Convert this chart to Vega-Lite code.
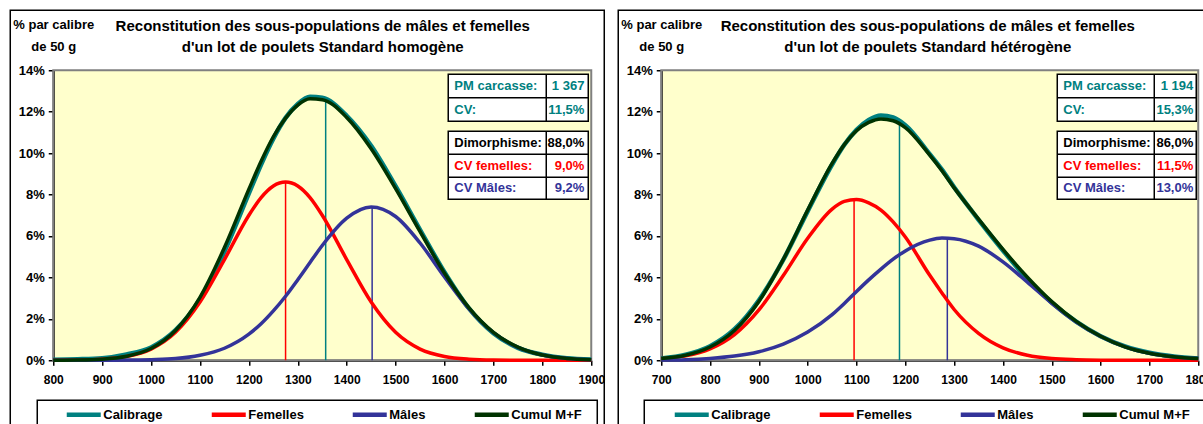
{
  "$schema": "https://vega.github.io/schema/vega-lite/v6.json",
  "padding": {"left": 9.25, "top": 9.25, "right": 0, "bottom": 0},
  "spacing": 70,
  "bounds": "flush",
  "datasets": {
    "curvesA": [
      {"serie": "Calibrage", "poids": 800, "pct": 0.0003}, {"serie": "Calibrage", "poids": 850, "pct": 0.0005}, {"serie": "Calibrage", "poids": 900, "pct": 0.0010}, {"serie": "Calibrage", "poids": 950, "pct": 0.0028}, {"serie": "Calibrage", "poids": 1000, "pct": 0.0062}, {"serie": "Calibrage", "poids": 1050, "pct": 0.0145}, {"serie": "Calibrage", "poids": 1100, "pct": 0.0295}, {"serie": "Calibrage", "poids": 1150, "pct": 0.0525}, {"serie": "Calibrage", "poids": 1200, "pct": 0.0805}, {"serie": "Calibrage", "poids": 1225, "pct": 0.0945}, {"serie": "Calibrage", "poids": 1250, "pct": 0.1070}, {"serie": "Calibrage", "poids": 1275, "pct": 0.1170}, {"serie": "Calibrage", "poids": 1300, "pct": 0.1237}, {"serie": "Calibrage", "poids": 1325, "pct": 0.1272}, {"serie": "Calibrage", "poids": 1350, "pct": 0.1267}, {"serie": "Calibrage", "poids": 1400, "pct": 0.1180}, {"serie": "Calibrage", "poids": 1450, "pct": 0.1035}, {"serie": "Calibrage", "poids": 1500, "pct": 0.0840}, {"serie": "Calibrage", "poids": 1550, "pct": 0.0630}, {"serie": "Calibrage", "poids": 1600, "pct": 0.0425}, {"serie": "Calibrage", "poids": 1650, "pct": 0.0250}, {"serie": "Calibrage", "poids": 1700, "pct": 0.0130}, {"serie": "Calibrage", "poids": 1750, "pct": 0.0060}, {"serie": "Calibrage", "poids": 1800, "pct": 0.0027}, {"serie": "Calibrage", "poids": 1850, "pct": 0.0010}, {"serie": "Calibrage", "poids": 1900, "pct": 0.0004},
      {"serie": "Femelles", "poids": 800, "pct": 0.00002}, {"serie": "Femelles", "poids": 850, "pct": 0.00012}, {"serie": "Femelles", "poids": 900, "pct": 0.0005}, {"serie": "Femelles", "poids": 950, "pct": 0.0018}, {"serie": "Femelles", "poids": 1000, "pct": 0.0054}, {"serie": "Femelles", "poids": 1050, "pct": 0.0135}, {"serie": "Femelles", "poids": 1100, "pct": 0.0281}, {"serie": "Femelles", "poids": 1150, "pct": 0.0486}, {"serie": "Femelles", "poids": 1200, "pct": 0.0700}, {"serie": "Femelles", "poids": 1225, "pct": 0.0785}, {"serie": "Femelles", "poids": 1250, "pct": 0.0841}, {"serie": "Femelles", "poids": 1275, "pct": 0.0860}, {"serie": "Femelles", "poids": 1300, "pct": 0.0841}, {"serie": "Femelles", "poids": 1325, "pct": 0.0785}, {"serie": "Femelles", "poids": 1350, "pct": 0.0700}, {"serie": "Femelles", "poids": 1400, "pct": 0.0486}, {"serie": "Femelles", "poids": 1450, "pct": 0.0281}, {"serie": "Femelles", "poids": 1500, "pct": 0.0135}, {"serie": "Femelles", "poids": 1550, "pct": 0.0054}, {"serie": "Femelles", "poids": 1600, "pct": 0.0018}, {"serie": "Femelles", "poids": 1650, "pct": 0.0005}, {"serie": "Femelles", "poids": 1700, "pct": 0.0001}, {"serie": "Femelles", "poids": 1750, "pct": 0.00002}, {"serie": "Femelles", "poids": 1800, "pct": 0}, {"serie": "Femelles", "poids": 1850, "pct": 0}, {"serie": "Femelles", "poids": 1900, "pct": 0},
      {"serie": "Mâles", "poids": 800, "pct": 0}, {"serie": "Mâles", "poids": 850, "pct": 0}, {"serie": "Mâles", "poids": 900, "pct": 0.00002}, {"serie": "Mâles", "poids": 950, "pct": 0.00007}, {"serie": "Mâles", "poids": 1000, "pct": 0.0003}, {"serie": "Mâles", "poids": 1050, "pct": 0.0008}, {"serie": "Mâles", "poids": 1100, "pct": 0.0024}, {"serie": "Mâles", "poids": 1150, "pct": 0.0058}, {"serie": "Mâles", "poids": 1200, "pct": 0.0126}, {"serie": "Mâles", "poids": 1225, "pct": 0.0176}, {"serie": "Mâles", "poids": 1250, "pct": 0.0238}, {"serie": "Mâles", "poids": 1275, "pct": 0.0309}, {"serie": "Mâles", "poids": 1300, "pct": 0.0389}, {"serie": "Mâles", "poids": 1325, "pct": 0.0472}, {"serie": "Mâles", "poids": 1350, "pct": 0.0554}, {"serie": "Mâles", "poids": 1400, "pct": 0.0686}, {"serie": "Mâles", "poids": 1450, "pct": 0.0740}, {"serie": "Mâles", "poids": 1500, "pct": 0.0694}, {"serie": "Mâles", "poids": 1550, "pct": 0.0566}, {"serie": "Mâles", "poids": 1600, "pct": 0.0402}, {"serie": "Mâles", "poids": 1650, "pct": 0.0248}, {"serie": "Mâles", "poids": 1700, "pct": 0.0133}, {"serie": "Mâles", "poids": 1750, "pct": 0.0062}, {"serie": "Mâles", "poids": 1800, "pct": 0.0025}, {"serie": "Mâles", "poids": 1850, "pct": 0.0009}, {"serie": "Mâles", "poids": 1900, "pct": 0.0003},
      {"serie": "Cumul M+F", "poids": 800, "pct": 0.00002}, {"serie": "Cumul M+F", "poids": 850, "pct": 0.00012}, {"serie": "Cumul M+F", "poids": 900, "pct": 0.0005}, {"serie": "Cumul M+F", "poids": 950, "pct": 0.0019}, {"serie": "Cumul M+F", "poids": 1000, "pct": 0.0057}, {"serie": "Cumul M+F", "poids": 1050, "pct": 0.0144}, {"serie": "Cumul M+F", "poids": 1100, "pct": 0.0304}, {"serie": "Cumul M+F", "poids": 1150, "pct": 0.0544}, {"serie": "Cumul M+F", "poids": 1200, "pct": 0.0826}, {"serie": "Cumul M+F", "poids": 1225, "pct": 0.0961}, {"serie": "Cumul M+F", "poids": 1250, "pct": 0.1079}, {"serie": "Cumul M+F", "poids": 1275, "pct": 0.1169}, {"serie": "Cumul M+F", "poids": 1300, "pct": 0.1232}, {"serie": "Cumul M+F", "poids": 1325, "pct": 0.1262}, {"serie": "Cumul M+F", "poids": 1350, "pct": 0.1258}, {"serie": "Cumul M+F", "poids": 1400, "pct": 0.1172}, {"serie": "Cumul M+F", "poids": 1450, "pct": 0.1021}, {"serie": "Cumul M+F", "poids": 1500, "pct": 0.0829}, {"serie": "Cumul M+F", "poids": 1550, "pct": 0.0621}, {"serie": "Cumul M+F", "poids": 1600, "pct": 0.0420}, {"serie": "Cumul M+F", "poids": 1650, "pct": 0.0253}, {"serie": "Cumul M+F", "poids": 1700, "pct": 0.0135}, {"serie": "Cumul M+F", "poids": 1750, "pct": 0.0063}, {"serie": "Cumul M+F", "poids": 1800, "pct": 0.0025}, {"serie": "Cumul M+F", "poids": 1850, "pct": 0.0009}, {"serie": "Cumul M+F", "poids": 1900, "pct": 0.0003}
    ],
    "curvesB": [
      {"serie": "Calibrage", "poids": 700, "pct": 0.0009}, {"serie": "Calibrage", "poids": 750, "pct": 0.0027}, {"serie": "Calibrage", "poids": 800, "pct": 0.0068}, {"serie": "Calibrage", "poids": 850, "pct": 0.0150}, {"serie": "Calibrage", "poids": 900, "pct": 0.0290}, {"serie": "Calibrage", "poids": 950, "pct": 0.0485}, {"serie": "Calibrage", "poids": 1000, "pct": 0.0720}, {"serie": "Calibrage", "poids": 1050, "pct": 0.0945}, {"serie": "Calibrage", "poids": 1075, "pct": 0.1040}, {"serie": "Calibrage", "poids": 1100, "pct": 0.1112}, {"serie": "Calibrage", "poids": 1125, "pct": 0.1160}, {"serie": "Calibrage", "poids": 1150, "pct": 0.1182}, {"serie": "Calibrage", "poids": 1175, "pct": 0.1172}, {"serie": "Calibrage", "poids": 1200, "pct": 0.1135}, {"serie": "Calibrage", "poids": 1250, "pct": 0.0995}, {"serie": "Calibrage", "poids": 1275, "pct": 0.0920}, {"serie": "Calibrage", "poids": 1300, "pct": 0.0835}, {"serie": "Calibrage", "poids": 1350, "pct": 0.0678}, {"serie": "Calibrage", "poids": 1400, "pct": 0.0530}, {"serie": "Calibrage", "poids": 1450, "pct": 0.0392}, {"serie": "Calibrage", "poids": 1500, "pct": 0.0278}, {"serie": "Calibrage", "poids": 1550, "pct": 0.0186}, {"serie": "Calibrage", "poids": 1600, "pct": 0.0116}, {"serie": "Calibrage", "poids": 1650, "pct": 0.0067}, {"serie": "Calibrage", "poids": 1700, "pct": 0.0036}, {"serie": "Calibrage", "poids": 1750, "pct": 0.0018}, {"serie": "Calibrage", "poids": 1800, "pct": 0.0009},
      {"serie": "Femelles", "poids": 700, "pct": 0.0007}, {"serie": "Femelles", "poids": 750, "pct": 0.0021}, {"serie": "Femelles", "poids": 800, "pct": 0.0055}, {"serie": "Femelles", "poids": 850, "pct": 0.0124}, {"serie": "Femelles", "poids": 900, "pct": 0.0243}, {"serie": "Femelles", "poids": 950, "pct": 0.0409}, {"serie": "Femelles", "poids": 1000, "pct": 0.0589}, {"serie": "Femelles", "poids": 1050, "pct": 0.0730}, {"serie": "Femelles", "poids": 1075, "pct": 0.0767}, {"serie": "Femelles", "poids": 1100, "pct": 0.0776}, {"serie": "Femelles", "poids": 1125, "pct": 0.0760}, {"serie": "Femelles", "poids": 1150, "pct": 0.0725}, {"serie": "Femelles", "poids": 1175, "pct": 0.0668}, {"serie": "Femelles", "poids": 1200, "pct": 0.0595}, {"serie": "Femelles", "poids": 1250, "pct": 0.0410}, {"serie": "Femelles", "poids": 1275, "pct": 0.0325}, {"serie": "Femelles", "poids": 1300, "pct": 0.0245}, {"serie": "Femelles", "poids": 1350, "pct": 0.0130}, {"serie": "Femelles", "poids": 1400, "pct": 0.0060}, {"serie": "Femelles", "poids": 1450, "pct": 0.0024}, {"serie": "Femelles", "poids": 1500, "pct": 0.0008}, {"serie": "Femelles", "poids": 1550, "pct": 0.00025}, {"serie": "Femelles", "poids": 1600, "pct": 0.00006}, {"serie": "Femelles", "poids": 1650, "pct": 0.00001}, {"serie": "Femelles", "poids": 1700, "pct": 0}, {"serie": "Femelles", "poids": 1750, "pct": 0}, {"serie": "Femelles", "poids": 1800, "pct": 0},
      {"serie": "Mâles", "poids": 700, "pct": 0.0001}, {"serie": "Mâles", "poids": 750, "pct": 0.0003}, {"serie": "Mâles", "poids": 800, "pct": 0.0009}, {"serie": "Mâles", "poids": 850, "pct": 0.0020}, {"serie": "Mâles", "poids": 900, "pct": 0.0041}, {"serie": "Mâles", "poids": 950, "pct": 0.0078}, {"serie": "Mâles", "poids": 1000, "pct": 0.0136}, {"serie": "Mâles", "poids": 1050, "pct": 0.0220}, {"serie": "Mâles", "poids": 1075, "pct": 0.0274}, {"serie": "Mâles", "poids": 1100, "pct": 0.0332}, {"serie": "Mâles", "poids": 1125, "pct": 0.0388}, {"serie": "Mâles", "poids": 1150, "pct": 0.0440}, {"serie": "Mâles", "poids": 1175, "pct": 0.0488}, {"serie": "Mâles", "poids": 1200, "pct": 0.0528}, {"serie": "Mâles", "poids": 1250, "pct": 0.0580}, {"serie": "Mâles", "poids": 1275, "pct": 0.0590}, {"serie": "Mâles", "poids": 1300, "pct": 0.0587}, {"serie": "Mâles", "poids": 1350, "pct": 0.0551}, {"serie": "Mâles", "poids": 1400, "pct": 0.0475}, {"serie": "Mâles", "poids": 1450, "pct": 0.0377}, {"serie": "Mâles", "poids": 1500, "pct": 0.0275}, {"serie": "Mâles", "poids": 1550, "pct": 0.0185}, {"serie": "Mâles", "poids": 1600, "pct": 0.0115}, {"serie": "Mâles", "poids": 1650, "pct": 0.0065}, {"serie": "Mâles", "poids": 1700, "pct": 0.0034}, {"serie": "Mâles", "poids": 1750, "pct": 0.0017}, {"serie": "Mâles", "poids": 1800, "pct": 0.0008},
      {"serie": "Cumul M+F", "poids": 700, "pct": 0.0008}, {"serie": "Cumul M+F", "poids": 750, "pct": 0.0024}, {"serie": "Cumul M+F", "poids": 800, "pct": 0.0064}, {"serie": "Cumul M+F", "poids": 850, "pct": 0.0144}, {"serie": "Cumul M+F", "poids": 900, "pct": 0.0284}, {"serie": "Cumul M+F", "poids": 950, "pct": 0.0487}, {"serie": "Cumul M+F", "poids": 1000, "pct": 0.0725}, {"serie": "Cumul M+F", "poids": 1050, "pct": 0.0950}, {"serie": "Cumul M+F", "poids": 1075, "pct": 0.1041}, {"serie": "Cumul M+F", "poids": 1100, "pct": 0.1108}, {"serie": "Cumul M+F", "poids": 1125, "pct": 0.1148}, {"serie": "Cumul M+F", "poids": 1150, "pct": 0.1165}, {"serie": "Cumul M+F", "poids": 1175, "pct": 0.1156}, {"serie": "Cumul M+F", "poids": 1200, "pct": 0.1123}, {"serie": "Cumul M+F", "poids": 1250, "pct": 0.0990}, {"serie": "Cumul M+F", "poids": 1275, "pct": 0.0915}, {"serie": "Cumul M+F", "poids": 1300, "pct": 0.0832}, {"serie": "Cumul M+F", "poids": 1350, "pct": 0.0681}, {"serie": "Cumul M+F", "poids": 1400, "pct": 0.0535}, {"serie": "Cumul M+F", "poids": 1450, "pct": 0.0401}, {"serie": "Cumul M+F", "poids": 1500, "pct": 0.0283}, {"serie": "Cumul M+F", "poids": 1550, "pct": 0.0188}, {"serie": "Cumul M+F", "poids": 1600, "pct": 0.0116}, {"serie": "Cumul M+F", "poids": 1650, "pct": 0.0065}, {"serie": "Cumul M+F", "poids": 1700, "pct": 0.0034}, {"serie": "Cumul M+F", "poids": 1750, "pct": 0.0017}, {"serie": "Cumul M+F", "poids": 1800, "pct": 0.0008}
    ],
    "rules": [
      {"panel": "A", "serie": "Femelles", "poids": 1275, "pct": 0.0860},
      {"panel": "A", "serie": "Calibrage", "poids": 1357, "pct": 0.1265},
      {"panel": "A", "serie": "Mâles", "poids": 1452, "pct": 0.0740},
      {"panel": "B", "serie": "Femelles", "poids": 1095, "pct": 0.0776},
      {"panel": "B", "serie": "Calibrage", "poids": 1188, "pct": 0.1150},
      {"panel": "B", "serie": "Mâles", "poids": 1286, "pct": 0.0589}
    ],
    "tables": [
      {"panel": "A", "label": "PM carcasse:", "value": "1 367", "kind": "Calibrage"},
      {"panel": "A", "label": "CV:", "value": "11,5%", "kind": "Calibrage"},
      {"panel": "A", "label": "Dimorphisme:", "value": "88,0%", "kind": "Dimorphisme"},
      {"panel": "A", "label": "CV femelles:", "value": "9,0%", "kind": "Femelles"},
      {"panel": "A", "label": "CV Mâles:", "value": "9,2%", "kind": "Mâles"},
      {"panel": "B", "label": "PM carcasse:", "value": "1 194", "kind": "Calibrage"},
      {"panel": "B", "label": "CV:", "value": "15,3%", "kind": "Calibrage"},
      {"panel": "B", "label": "Dimorphisme:", "value": "86,0%", "kind": "Dimorphisme"},
      {"panel": "B", "label": "CV femelles:", "value": "11,5%", "kind": "Femelles"},
      {"panel": "B", "label": "CV Mâles:", "value": "13,0%", "kind": "Mâles"}
    ]
  },
  "hconcat": [
    {
      "width": 538, "height": 290,
      "layer": [
        {"data": {"values": [{}]}, "mark": {"type": "rect", "fill": null, "stroke": "black", "strokeWidth": 1.5},
         "encoding": {"x": {"datum": 712.1, "type": "quantitative", "scale": {"domain": [800, 1900], "nice": false, "zero": false}}, "x2": {"datum": 1926.6}, "y": {"datum": 0.169, "type": "quantitative", "scale": {"domain": [0, 0.14], "nice": false, "zero": false}}, "y2": {"datum": -0.0315}}},
        {"data": {"values": [{}]}, "mark": {"type": "rect", "fill": "white", "stroke": "black", "strokeWidth": 1.5},
         "encoding": {"x": {"datum": 767.3, "type": "quantitative", "scale": {"domain": [800, 1900], "nice": false, "zero": false}}, "x2": {"datum": 1912.3}, "y": {"datum": -0.0193, "type": "quantitative", "scale": {"domain": [0, 0.14], "nice": false, "zero": false}}, "y2": {"datum": -0.0315}}},
        {"data": {"values": [{}]}, "mark": {"type": "text", "align": "center", "baseline": "alphabetic", "fontSize": 15, "fontWeight": "bold", "lineHeight": 21, "color": "black", "text": ["Reconstitution des sous-populations de mâles et femelles", "d'un lot de poulets Standard homogène"]},
         "encoding": {"x": {"datum": 1351, "type": "quantitative", "scale": {"domain": [800, 1900], "nice": false, "zero": false}}, "y": {"datum": 0.1588, "type": "quantitative", "scale": {"domain": [0, 0.14], "nice": false, "zero": false}}}},
        {"data": {"values": [{}]}, "mark": {"type": "rect", "fill": null, "stroke": "#808080", "strokeWidth": 2},
         "encoding": {"x": {"datum": 800, "type": "quantitative", "scale": {"domain": [800, 1900], "nice": false, "zero": false}}, "x2": {"datum": 1900}, "y": {"datum": 0, "type": "quantitative", "scale": {"domain": [0, 0.14], "nice": false, "zero": false}}, "y2": {"datum": 0.14}}},
        {"data": {"name": "rules"}, "transform": [{"filter": "datum.panel == 'A'"}], "mark": {"type": "rule", "strokeWidth": 1.5},
         "encoding": {"x": {"field": "poids", "type": "quantitative", "scale": {"domain": [800, 1900], "nice": false, "zero": false}}, "y": {"field": "pct", "type": "quantitative", "scale": {"domain": [0, 0.14], "nice": false, "zero": false}}, "y2": {"datum": 0}, "color": {"field": "serie", "type": "nominal", "scale": {"domain": ["Calibrage", "Femelles", "Mâles", "Cumul M+F"], "range": ["#008080", "#FF0000", "#333399", "#003300"]}}}},
        {"data": {"name": "curvesA"}, "transform": [{"filter": "datum.serie == 'Calibrage'"}], "mark": {"type": "line", "strokeWidth": 4.5, "interpolate": "monotone"},
         "encoding": {
           "x": {"field": "poids", "type": "quantitative", "scale": {"domain": [800, 1900], "nice": false, "zero": false}, "axis": {"values": [800, 900, 1000, 1100, 1200, 1300, 1400, 1500, 1600, 1700, 1800, 1900], "format": "d", "title": null}},
           "y": {"field": "pct", "type": "quantitative", "scale": {"domain": [0, 0.14], "nice": false, "zero": false}, "axis": {"values": [0, 0.02, 0.04, 0.06, 0.08, 0.1, 0.12, 0.14], "format": ".0%", "title": ["% par calibre", "de 50 g"], "titleAngle": 0, "titleAlign": "center", "titleBaseline": "alphabetic", "titleX": 0, "titleY": -42, "titleFontSize": 13, "titleFontWeight": "bold", "titleColor": "black", "titleLineHeight": 22}},
           "color": {"field": "serie", "type": "nominal", "scale": {"domain": ["Calibrage", "Femelles", "Mâles", "Cumul M+F"], "range": ["#008080", "#FF0000", "#333399", "#003300"]},
             "legend": {"orient": "none", "legendX": 11, "legendY": 325, "direction": "horizontal", "columns": 4, "gridAlign": "none", "columnPadding": 39, "symbolType": "stroke", "symbolSize": 1156, "symbolStrokeWidth": 4.5, "labelFontSize": 13, "labelFontWeight": "bold", "labelColor": "black", "labelOffset": 0, "padding": 0, "title": null}}
         }},
        {"data": {"name": "curvesA"}, "transform": [{"filter": "datum.serie == 'Femelles'"}], "mark": {"type": "line", "strokeWidth": 3.5, "interpolate": "monotone"},
         "encoding": {"x": {"field": "poids", "type": "quantitative", "scale": {"domain": [800, 1900], "nice": false, "zero": false}}, "y": {"field": "pct", "type": "quantitative", "scale": {"domain": [0, 0.14], "nice": false, "zero": false}}, "color": {"field": "serie", "type": "nominal", "scale": {"domain": ["Calibrage", "Femelles", "Mâles", "Cumul M+F"], "range": ["#008080", "#FF0000", "#333399", "#003300"]}}}},
        {"data": {"name": "curvesA"}, "transform": [{"filter": "datum.serie == 'Mâles'"}], "mark": {"type": "line", "strokeWidth": 3.5, "interpolate": "monotone"},
         "encoding": {"x": {"field": "poids", "type": "quantitative", "scale": {"domain": [800, 1900], "nice": false, "zero": false}}, "y": {"field": "pct", "type": "quantitative", "scale": {"domain": [0, 0.14], "nice": false, "zero": false}}, "color": {"field": "serie", "type": "nominal", "scale": {"domain": ["Calibrage", "Femelles", "Mâles", "Cumul M+F"], "range": ["#008080", "#FF0000", "#333399", "#003300"]}}}},
        {"data": {"name": "curvesA"}, "transform": [{"filter": "datum.serie == 'Cumul M+F'"}], "mark": {"type": "line", "strokeWidth": 3.5, "interpolate": "monotone"},
         "encoding": {"x": {"field": "poids", "type": "quantitative", "scale": {"domain": [800, 1900], "nice": false, "zero": false}}, "y": {"field": "pct", "type": "quantitative", "scale": {"domain": [0, 0.14], "nice": false, "zero": false}}, "color": {"field": "serie", "type": "nominal", "scale": {"domain": ["Calibrage", "Femelles", "Mâles", "Cumul M+F"], "range": ["#008080", "#FF0000", "#333399", "#003300"]}}}},
        {"data": {"values": [{}]}, "mark": {"type": "rect", "fill": "white", "stroke": "black", "strokeWidth": 1.5},
         "encoding": {"x": {"datum": 1607.6, "type": "quantitative", "scale": {"domain": [800, 1900], "nice": false, "zero": false}}, "x2": {"datum": 1893.9}, "y": {"datum": 0.13807, "type": "quantitative", "scale": {"domain": [0, 0.14], "nice": false, "zero": false}}, "y2": {"datum": 0.11538}}},
        {"data": {"values": [{}]}, "mark": {"type": "rect", "fill": "white", "stroke": "black", "strokeWidth": 1.5},
         "encoding": {"x": {"datum": 1607.6, "type": "quantitative", "scale": {"domain": [800, 1900], "nice": false, "zero": false}}, "x2": {"datum": 1893.9}, "y": {"datum": 0.11055, "type": "quantitative", "scale": {"domain": [0, 0.14], "nice": false, "zero": false}}, "y2": {"datum": 0.07772}}},
        {"data": {"values": [{}]}, "mark": {"type": "rule", "stroke": "black", "strokeWidth": 1.5},
         "encoding": {"x": {"datum": 1808, "type": "quantitative", "scale": {"domain": [800, 1900], "nice": false, "zero": false}}, "y": {"datum": 0.13807, "type": "quantitative", "scale": {"domain": [0, 0.14], "nice": false, "zero": false}}, "y2": {"datum": 0.11538}}},
        {"data": {"values": [{}]}, "mark": {"type": "rule", "stroke": "black", "strokeWidth": 1.5},
         "encoding": {"x": {"datum": 1808, "type": "quantitative", "scale": {"domain": [800, 1900], "nice": false, "zero": false}}, "y": {"datum": 0.11055, "type": "quantitative", "scale": {"domain": [0, 0.14], "nice": false, "zero": false}}, "y2": {"datum": 0.07772}}},
        {"data": {"values": [{}]}, "mark": {"type": "rule", "stroke": "black", "strokeWidth": 1.5},
         "encoding": {"x": {"datum": 1607.6, "type": "quantitative", "scale": {"domain": [800, 1900], "nice": false, "zero": false}}, "x2": {"datum": 1893.9}, "y": {"datum": 0.12672, "type": "quantitative", "scale": {"domain": [0, 0.14], "nice": false, "zero": false}}}},
        {"data": {"values": [{}]}, "mark": {"type": "rule", "stroke": "black", "strokeWidth": 1.5},
         "encoding": {"x": {"datum": 1607.6, "type": "quantitative", "scale": {"domain": [800, 1900], "nice": false, "zero": false}}, "x2": {"datum": 1893.9}, "y": {"datum": 0.09945, "type": "quantitative", "scale": {"domain": [0, 0.14], "nice": false, "zero": false}}}},
        {"data": {"values": [{}]}, "mark": {"type": "rule", "stroke": "black", "strokeWidth": 1.5},
         "encoding": {"x": {"datum": 1607.6, "type": "quantitative", "scale": {"domain": [800, 1900], "nice": false, "zero": false}}, "x2": {"datum": 1893.9}, "y": {"datum": 0.08834, "type": "quantitative", "scale": {"domain": [0, 0.14], "nice": false, "zero": false}}}},
        {"data": {"name": "tables"}, "transform": [{"filter": "datum.panel == 'A' && datum.label == 'PM carcasse:'"}], "mark": {"type": "text", "align": "left", "baseline": "middle", "fontSize": 13, "fontWeight": "bold"},
         "encoding": {"x": {"datum": 1620, "type": "quantitative", "scale": {"domain": [800, 1900], "nice": false, "zero": false}}, "y": {"datum": 0.1324, "type": "quantitative", "scale": {"domain": [0, 0.14], "nice": false, "zero": false}}, "text": {"field": "label", "type": "nominal"}, "fill": {"field": "kind", "type": "nominal", "scale": {"domain": ["Calibrage", "Dimorphisme", "Femelles", "Mâles"], "range": ["#008080", "#000000", "#FF0000", "#333399"]}, "legend": null}}},
        {"data": {"name": "tables"}, "transform": [{"filter": "datum.panel == 'A' && datum.label == 'PM carcasse:'"}], "mark": {"type": "text", "align": "right", "baseline": "middle", "fontSize": 13, "fontWeight": "bold"},
         "encoding": {"x": {"datum": 1886, "type": "quantitative", "scale": {"domain": [800, 1900], "nice": false, "zero": false}}, "y": {"datum": 0.1324, "type": "quantitative", "scale": {"domain": [0, 0.14], "nice": false, "zero": false}}, "text": {"field": "value", "type": "nominal"}, "fill": {"field": "kind", "type": "nominal", "scale": {"domain": ["Calibrage", "Dimorphisme", "Femelles", "Mâles"], "range": ["#008080", "#000000", "#FF0000", "#333399"]}, "legend": null}}},
        {"data": {"name": "tables"}, "transform": [{"filter": "datum.panel == 'A' && datum.label == 'CV:'"}], "mark": {"type": "text", "align": "left", "baseline": "middle", "fontSize": 13, "fontWeight": "bold"},
         "encoding": {"x": {"datum": 1620, "type": "quantitative", "scale": {"domain": [800, 1900], "nice": false, "zero": false}}, "y": {"datum": 0.12105, "type": "quantitative", "scale": {"domain": [0, 0.14], "nice": false, "zero": false}}, "text": {"field": "label", "type": "nominal"}, "fill": {"field": "kind", "type": "nominal", "scale": {"domain": ["Calibrage", "Dimorphisme", "Femelles", "Mâles"], "range": ["#008080", "#000000", "#FF0000", "#333399"]}, "legend": null}}},
        {"data": {"name": "tables"}, "transform": [{"filter": "datum.panel == 'A' && datum.label == 'CV:'"}], "mark": {"type": "text", "align": "right", "baseline": "middle", "fontSize": 13, "fontWeight": "bold"},
         "encoding": {"x": {"datum": 1886, "type": "quantitative", "scale": {"domain": [800, 1900], "nice": false, "zero": false}}, "y": {"datum": 0.12105, "type": "quantitative", "scale": {"domain": [0, 0.14], "nice": false, "zero": false}}, "text": {"field": "value", "type": "nominal"}, "fill": {"field": "kind", "type": "nominal", "scale": {"domain": ["Calibrage", "Dimorphisme", "Femelles", "Mâles"], "range": ["#008080", "#000000", "#FF0000", "#333399"]}, "legend": null}}},
        {"data": {"name": "tables"}, "transform": [{"filter": "datum.panel == 'A' && datum.label == 'Dimorphisme:'"}], "mark": {"type": "text", "align": "left", "baseline": "middle", "fontSize": 13, "fontWeight": "bold"},
         "encoding": {"x": {"datum": 1620, "type": "quantitative", "scale": {"domain": [800, 1900], "nice": false, "zero": false}}, "y": {"datum": 0.105, "type": "quantitative", "scale": {"domain": [0, 0.14], "nice": false, "zero": false}}, "text": {"field": "label", "type": "nominal"}, "fill": {"field": "kind", "type": "nominal", "scale": {"domain": ["Calibrage", "Dimorphisme", "Femelles", "Mâles"], "range": ["#008080", "#000000", "#FF0000", "#333399"]}, "legend": null}}},
        {"data": {"name": "tables"}, "transform": [{"filter": "datum.panel == 'A' && datum.label == 'Dimorphisme:'"}], "mark": {"type": "text", "align": "right", "baseline": "middle", "fontSize": 13, "fontWeight": "bold"},
         "encoding": {"x": {"datum": 1886, "type": "quantitative", "scale": {"domain": [800, 1900], "nice": false, "zero": false}}, "y": {"datum": 0.105, "type": "quantitative", "scale": {"domain": [0, 0.14], "nice": false, "zero": false}}, "text": {"field": "value", "type": "nominal"}, "fill": {"field": "kind", "type": "nominal", "scale": {"domain": ["Calibrage", "Dimorphisme", "Femelles", "Mâles"], "range": ["#008080", "#000000", "#FF0000", "#333399"]}, "legend": null}}},
        {"data": {"name": "tables"}, "transform": [{"filter": "datum.panel == 'A' && datum.label == 'CV femelles:'"}], "mark": {"type": "text", "align": "left", "baseline": "middle", "fontSize": 13, "fontWeight": "bold"},
         "encoding": {"x": {"datum": 1620, "type": "quantitative", "scale": {"domain": [800, 1900], "nice": false, "zero": false}}, "y": {"datum": 0.0939, "type": "quantitative", "scale": {"domain": [0, 0.14], "nice": false, "zero": false}}, "text": {"field": "label", "type": "nominal"}, "fill": {"field": "kind", "type": "nominal", "scale": {"domain": ["Calibrage", "Dimorphisme", "Femelles", "Mâles"], "range": ["#008080", "#000000", "#FF0000", "#333399"]}, "legend": null}}},
        {"data": {"name": "tables"}, "transform": [{"filter": "datum.panel == 'A' && datum.label == 'CV femelles:'"}], "mark": {"type": "text", "align": "right", "baseline": "middle", "fontSize": 13, "fontWeight": "bold"},
         "encoding": {"x": {"datum": 1886, "type": "quantitative", "scale": {"domain": [800, 1900], "nice": false, "zero": false}}, "y": {"datum": 0.0939, "type": "quantitative", "scale": {"domain": [0, 0.14], "nice": false, "zero": false}}, "text": {"field": "value", "type": "nominal"}, "fill": {"field": "kind", "type": "nominal", "scale": {"domain": ["Calibrage", "Dimorphisme", "Femelles", "Mâles"], "range": ["#008080", "#000000", "#FF0000", "#333399"]}, "legend": null}}},
        {"data": {"name": "tables"}, "transform": [{"filter": "datum.panel == 'A' && datum.label == 'CV Mâles:'"}], "mark": {"type": "text", "align": "left", "baseline": "middle", "fontSize": 13, "fontWeight": "bold"},
         "encoding": {"x": {"datum": 1620, "type": "quantitative", "scale": {"domain": [800, 1900], "nice": false, "zero": false}}, "y": {"datum": 0.08303, "type": "quantitative", "scale": {"domain": [0, 0.14], "nice": false, "zero": false}}, "text": {"field": "label", "type": "nominal"}, "fill": {"field": "kind", "type": "nominal", "scale": {"domain": ["Calibrage", "Dimorphisme", "Femelles", "Mâles"], "range": ["#008080", "#000000", "#FF0000", "#333399"]}, "legend": null}}},
        {"data": {"name": "tables"}, "transform": [{"filter": "datum.panel == 'A' && datum.label == 'CV Mâles:'"}], "mark": {"type": "text", "align": "right", "baseline": "middle", "fontSize": 13, "fontWeight": "bold"},
         "encoding": {"x": {"datum": 1886, "type": "quantitative", "scale": {"domain": [800, 1900], "nice": false, "zero": false}}, "y": {"datum": 0.08303, "type": "quantitative", "scale": {"domain": [0, 0.14], "nice": false, "zero": false}}, "text": {"field": "value", "type": "nominal"}, "fill": {"field": "kind", "type": "nominal", "scale": {"domain": ["Calibrage", "Dimorphisme", "Femelles", "Mâles"], "range": ["#008080", "#000000", "#FF0000", "#333399"]}, "legend": null}}}
      ]
    },
    {
      "width": 537, "height": 290,
      "layer": [
        {"data": {"values": [{}]}, "mark": {"type": "rect", "fill": null, "stroke": "black", "strokeWidth": 1.5},
         "encoding": {"x": {"datum": 611.9, "type": "quantitative", "scale": {"domain": [700, 1800], "nice": false, "zero": false}}, "x2": {"datum": 1815}, "y": {"datum": 0.169, "type": "quantitative", "scale": {"domain": [0, 0.14], "nice": false, "zero": false}}, "y2": {"datum": -0.0315}}},
        {"data": {"values": [{}]}, "mark": {"type": "rect", "fill": "white", "stroke": "black", "strokeWidth": 1.5},
         "encoding": {"x": {"datum": 665.2, "type": "quantitative", "scale": {"domain": [700, 1800], "nice": false, "zero": false}}, "x2": {"datum": 1815}, "y": {"datum": -0.0193, "type": "quantitative", "scale": {"domain": [0, 0.14], "nice": false, "zero": false}}, "y2": {"datum": -0.0315}}},
        {"data": {"values": [{}]}, "mark": {"type": "text", "align": "center", "baseline": "alphabetic", "fontSize": 15, "fontWeight": "bold", "lineHeight": 21, "color": "black", "text": ["Reconstitution des sous-populations de mâles et femelles", "d'un lot de poulets Standard hétérogène"]},
         "encoding": {"x": {"datum": 1246, "type": "quantitative", "scale": {"domain": [700, 1800], "nice": false, "zero": false}}, "y": {"datum": 0.1588, "type": "quantitative", "scale": {"domain": [0, 0.14], "nice": false, "zero": false}}}},
        {"data": {"values": [{}]}, "mark": {"type": "rect", "fill": null, "stroke": "#808080", "strokeWidth": 2},
         "encoding": {"x": {"datum": 700, "type": "quantitative", "scale": {"domain": [700, 1800], "nice": false, "zero": false}}, "x2": {"datum": 1800}, "y": {"datum": 0, "type": "quantitative", "scale": {"domain": [0, 0.14], "nice": false, "zero": false}}, "y2": {"datum": 0.14}}},
        {"data": {"name": "rules"}, "transform": [{"filter": "datum.panel == 'B'"}], "mark": {"type": "rule", "strokeWidth": 1.5},
         "encoding": {"x": {"field": "poids", "type": "quantitative", "scale": {"domain": [700, 1800], "nice": false, "zero": false}}, "y": {"field": "pct", "type": "quantitative", "scale": {"domain": [0, 0.14], "nice": false, "zero": false}}, "y2": {"datum": 0}, "color": {"field": "serie", "type": "nominal", "scale": {"domain": ["Calibrage", "Femelles", "Mâles", "Cumul M+F"], "range": ["#008080", "#FF0000", "#333399", "#003300"]}}}},
        {"data": {"name": "curvesB"}, "transform": [{"filter": "datum.serie == 'Calibrage'"}], "mark": {"type": "line", "strokeWidth": 4.5, "interpolate": "monotone"},
         "encoding": {
           "x": {"field": "poids", "type": "quantitative", "scale": {"domain": [700, 1800], "nice": false, "zero": false}, "axis": {"values": [700, 800, 900, 1000, 1100, 1200, 1300, 1400, 1500, 1600, 1700, 1800], "format": "d", "title": null}},
           "y": {"field": "pct", "type": "quantitative", "scale": {"domain": [0, 0.14], "nice": false, "zero": false}, "axis": {"values": [0, 0.02, 0.04, 0.06, 0.08, 0.1, 0.12, 0.14], "format": ".0%", "title": ["% par calibre", "de 50 g"], "titleAngle": 0, "titleAlign": "center", "titleBaseline": "alphabetic", "titleX": 0, "titleY": -42, "titleFontSize": 13, "titleFontWeight": "bold", "titleColor": "black", "titleLineHeight": 22}},
           "color": {"field": "serie", "type": "nominal", "scale": {"domain": ["Calibrage", "Femelles", "Mâles", "Cumul M+F"], "range": ["#008080", "#FF0000", "#333399", "#003300"]},
             "legend": {"orient": "none", "legendX": 11, "legendY": 325, "direction": "horizontal", "columns": 4, "gridAlign": "none", "columnPadding": 39, "symbolType": "stroke", "symbolSize": 1156, "symbolStrokeWidth": 4.5, "labelFontSize": 13, "labelFontWeight": "bold", "labelColor": "black", "labelOffset": 0, "padding": 0, "title": null}}
         }},
        {"data": {"name": "curvesB"}, "transform": [{"filter": "datum.serie == 'Femelles'"}], "mark": {"type": "line", "strokeWidth": 3.5, "interpolate": "monotone"},
         "encoding": {"x": {"field": "poids", "type": "quantitative", "scale": {"domain": [700, 1800], "nice": false, "zero": false}}, "y": {"field": "pct", "type": "quantitative", "scale": {"domain": [0, 0.14], "nice": false, "zero": false}}, "color": {"field": "serie", "type": "nominal", "scale": {"domain": ["Calibrage", "Femelles", "Mâles", "Cumul M+F"], "range": ["#008080", "#FF0000", "#333399", "#003300"]}}}},
        {"data": {"name": "curvesB"}, "transform": [{"filter": "datum.serie == 'Mâles'"}], "mark": {"type": "line", "strokeWidth": 3.5, "interpolate": "monotone"},
         "encoding": {"x": {"field": "poids", "type": "quantitative", "scale": {"domain": [700, 1800], "nice": false, "zero": false}}, "y": {"field": "pct", "type": "quantitative", "scale": {"domain": [0, 0.14], "nice": false, "zero": false}}, "color": {"field": "serie", "type": "nominal", "scale": {"domain": ["Calibrage", "Femelles", "Mâles", "Cumul M+F"], "range": ["#008080", "#FF0000", "#333399", "#003300"]}}}},
        {"data": {"name": "curvesB"}, "transform": [{"filter": "datum.serie == 'Cumul M+F'"}], "mark": {"type": "line", "strokeWidth": 3.5, "interpolate": "monotone"},
         "encoding": {"x": {"field": "poids", "type": "quantitative", "scale": {"domain": [700, 1800], "nice": false, "zero": false}}, "y": {"field": "pct", "type": "quantitative", "scale": {"domain": [0, 0.14], "nice": false, "zero": false}}, "color": {"field": "serie", "type": "nominal", "scale": {"domain": ["Calibrage", "Femelles", "Mâles", "Cumul M+F"], "range": ["#008080", "#FF0000", "#333399", "#003300"]}}}},
        {"data": {"values": [{}]}, "mark": {"type": "rect", "fill": "white", "stroke": "black", "strokeWidth": 1.5},
         "encoding": {"x": {"datum": 1511.2, "type": "quantitative", "scale": {"domain": [700, 1800], "nice": false, "zero": false}}, "x2": {"datum": 1795.9}, "y": {"datum": 0.13807, "type": "quantitative", "scale": {"domain": [0, 0.14], "nice": false, "zero": false}}, "y2": {"datum": 0.11538}}},
        {"data": {"values": [{}]}, "mark": {"type": "rect", "fill": "white", "stroke": "black", "strokeWidth": 1.5},
         "encoding": {"x": {"datum": 1511.2, "type": "quantitative", "scale": {"domain": [700, 1800], "nice": false, "zero": false}}, "x2": {"datum": 1795.9}, "y": {"datum": 0.11055, "type": "quantitative", "scale": {"domain": [0, 0.14], "nice": false, "zero": false}}, "y2": {"datum": 0.07772}}},
        {"data": {"values": [{}]}, "mark": {"type": "rule", "stroke": "black", "strokeWidth": 1.5},
         "encoding": {"x": {"datum": 1709.9, "type": "quantitative", "scale": {"domain": [700, 1800], "nice": false, "zero": false}}, "y": {"datum": 0.13807, "type": "quantitative", "scale": {"domain": [0, 0.14], "nice": false, "zero": false}}, "y2": {"datum": 0.11538}}},
        {"data": {"values": [{}]}, "mark": {"type": "rule", "stroke": "black", "strokeWidth": 1.5},
         "encoding": {"x": {"datum": 1709.9, "type": "quantitative", "scale": {"domain": [700, 1800], "nice": false, "zero": false}}, "y": {"datum": 0.11055, "type": "quantitative", "scale": {"domain": [0, 0.14], "nice": false, "zero": false}}, "y2": {"datum": 0.07772}}},
        {"data": {"values": [{}]}, "mark": {"type": "rule", "stroke": "black", "strokeWidth": 1.5},
         "encoding": {"x": {"datum": 1511.2, "type": "quantitative", "scale": {"domain": [700, 1800], "nice": false, "zero": false}}, "x2": {"datum": 1795.9}, "y": {"datum": 0.12672, "type": "quantitative", "scale": {"domain": [0, 0.14], "nice": false, "zero": false}}}},
        {"data": {"values": [{}]}, "mark": {"type": "rule", "stroke": "black", "strokeWidth": 1.5},
         "encoding": {"x": {"datum": 1511.2, "type": "quantitative", "scale": {"domain": [700, 1800], "nice": false, "zero": false}}, "x2": {"datum": 1795.9}, "y": {"datum": 0.09945, "type": "quantitative", "scale": {"domain": [0, 0.14], "nice": false, "zero": false}}}},
        {"data": {"values": [{}]}, "mark": {"type": "rule", "stroke": "black", "strokeWidth": 1.5},
         "encoding": {"x": {"datum": 1511.2, "type": "quantitative", "scale": {"domain": [700, 1800], "nice": false, "zero": false}}, "x2": {"datum": 1795.9}, "y": {"datum": 0.08834, "type": "quantitative", "scale": {"domain": [0, 0.14], "nice": false, "zero": false}}}},
        {"data": {"name": "tables"}, "transform": [{"filter": "datum.panel == 'B' && datum.label == 'PM carcasse:'"}], "mark": {"type": "text", "align": "left", "baseline": "middle", "fontSize": 13, "fontWeight": "bold"},
         "encoding": {"x": {"datum": 1523.5, "type": "quantitative", "scale": {"domain": [700, 1800], "nice": false, "zero": false}}, "y": {"datum": 0.1324, "type": "quantitative", "scale": {"domain": [0, 0.14], "nice": false, "zero": false}}, "text": {"field": "label", "type": "nominal"}, "fill": {"field": "kind", "type": "nominal", "scale": {"domain": ["Calibrage", "Dimorphisme", "Femelles", "Mâles"], "range": ["#008080", "#000000", "#FF0000", "#333399"]}, "legend": null}}},
        {"data": {"name": "tables"}, "transform": [{"filter": "datum.panel == 'B' && datum.label == 'PM carcasse:'"}], "mark": {"type": "text", "align": "right", "baseline": "middle", "fontSize": 13, "fontWeight": "bold"},
         "encoding": {"x": {"datum": 1789.8, "type": "quantitative", "scale": {"domain": [700, 1800], "nice": false, "zero": false}}, "y": {"datum": 0.1324, "type": "quantitative", "scale": {"domain": [0, 0.14], "nice": false, "zero": false}}, "text": {"field": "value", "type": "nominal"}, "fill": {"field": "kind", "type": "nominal", "scale": {"domain": ["Calibrage", "Dimorphisme", "Femelles", "Mâles"], "range": ["#008080", "#000000", "#FF0000", "#333399"]}, "legend": null}}},
        {"data": {"name": "tables"}, "transform": [{"filter": "datum.panel == 'B' && datum.label == 'CV:'"}], "mark": {"type": "text", "align": "left", "baseline": "middle", "fontSize": 13, "fontWeight": "bold"},
         "encoding": {"x": {"datum": 1523.5, "type": "quantitative", "scale": {"domain": [700, 1800], "nice": false, "zero": false}}, "y": {"datum": 0.12105, "type": "quantitative", "scale": {"domain": [0, 0.14], "nice": false, "zero": false}}, "text": {"field": "label", "type": "nominal"}, "fill": {"field": "kind", "type": "nominal", "scale": {"domain": ["Calibrage", "Dimorphisme", "Femelles", "Mâles"], "range": ["#008080", "#000000", "#FF0000", "#333399"]}, "legend": null}}},
        {"data": {"name": "tables"}, "transform": [{"filter": "datum.panel == 'B' && datum.label == 'CV:'"}], "mark": {"type": "text", "align": "right", "baseline": "middle", "fontSize": 13, "fontWeight": "bold"},
         "encoding": {"x": {"datum": 1789.8, "type": "quantitative", "scale": {"domain": [700, 1800], "nice": false, "zero": false}}, "y": {"datum": 0.12105, "type": "quantitative", "scale": {"domain": [0, 0.14], "nice": false, "zero": false}}, "text": {"field": "value", "type": "nominal"}, "fill": {"field": "kind", "type": "nominal", "scale": {"domain": ["Calibrage", "Dimorphisme", "Femelles", "Mâles"], "range": ["#008080", "#000000", "#FF0000", "#333399"]}, "legend": null}}},
        {"data": {"name": "tables"}, "transform": [{"filter": "datum.panel == 'B' && datum.label == 'Dimorphisme:'"}], "mark": {"type": "text", "align": "left", "baseline": "middle", "fontSize": 13, "fontWeight": "bold"},
         "encoding": {"x": {"datum": 1523.5, "type": "quantitative", "scale": {"domain": [700, 1800], "nice": false, "zero": false}}, "y": {"datum": 0.105, "type": "quantitative", "scale": {"domain": [0, 0.14], "nice": false, "zero": false}}, "text": {"field": "label", "type": "nominal"}, "fill": {"field": "kind", "type": "nominal", "scale": {"domain": ["Calibrage", "Dimorphisme", "Femelles", "Mâles"], "range": ["#008080", "#000000", "#FF0000", "#333399"]}, "legend": null}}},
        {"data": {"name": "tables"}, "transform": [{"filter": "datum.panel == 'B' && datum.label == 'Dimorphisme:'"}], "mark": {"type": "text", "align": "right", "baseline": "middle", "fontSize": 13, "fontWeight": "bold"},
         "encoding": {"x": {"datum": 1789.8, "type": "quantitative", "scale": {"domain": [700, 1800], "nice": false, "zero": false}}, "y": {"datum": 0.105, "type": "quantitative", "scale": {"domain": [0, 0.14], "nice": false, "zero": false}}, "text": {"field": "value", "type": "nominal"}, "fill": {"field": "kind", "type": "nominal", "scale": {"domain": ["Calibrage", "Dimorphisme", "Femelles", "Mâles"], "range": ["#008080", "#000000", "#FF0000", "#333399"]}, "legend": null}}},
        {"data": {"name": "tables"}, "transform": [{"filter": "datum.panel == 'B' && datum.label == 'CV femelles:'"}], "mark": {"type": "text", "align": "left", "baseline": "middle", "fontSize": 13, "fontWeight": "bold"},
         "encoding": {"x": {"datum": 1523.5, "type": "quantitative", "scale": {"domain": [700, 1800], "nice": false, "zero": false}}, "y": {"datum": 0.0939, "type": "quantitative", "scale": {"domain": [0, 0.14], "nice": false, "zero": false}}, "text": {"field": "label", "type": "nominal"}, "fill": {"field": "kind", "type": "nominal", "scale": {"domain": ["Calibrage", "Dimorphisme", "Femelles", "Mâles"], "range": ["#008080", "#000000", "#FF0000", "#333399"]}, "legend": null}}},
        {"data": {"name": "tables"}, "transform": [{"filter": "datum.panel == 'B' && datum.label == 'CV femelles:'"}], "mark": {"type": "text", "align": "right", "baseline": "middle", "fontSize": 13, "fontWeight": "bold"},
         "encoding": {"x": {"datum": 1789.8, "type": "quantitative", "scale": {"domain": [700, 1800], "nice": false, "zero": false}}, "y": {"datum": 0.0939, "type": "quantitative", "scale": {"domain": [0, 0.14], "nice": false, "zero": false}}, "text": {"field": "value", "type": "nominal"}, "fill": {"field": "kind", "type": "nominal", "scale": {"domain": ["Calibrage", "Dimorphisme", "Femelles", "Mâles"], "range": ["#008080", "#000000", "#FF0000", "#333399"]}, "legend": null}}},
        {"data": {"name": "tables"}, "transform": [{"filter": "datum.panel == 'B' && datum.label == 'CV Mâles:'"}], "mark": {"type": "text", "align": "left", "baseline": "middle", "fontSize": 13, "fontWeight": "bold"},
         "encoding": {"x": {"datum": 1523.5, "type": "quantitative", "scale": {"domain": [700, 1800], "nice": false, "zero": false}}, "y": {"datum": 0.08303, "type": "quantitative", "scale": {"domain": [0, 0.14], "nice": false, "zero": false}}, "text": {"field": "label", "type": "nominal"}, "fill": {"field": "kind", "type": "nominal", "scale": {"domain": ["Calibrage", "Dimorphisme", "Femelles", "Mâles"], "range": ["#008080", "#000000", "#FF0000", "#333399"]}, "legend": null}}},
        {"data": {"name": "tables"}, "transform": [{"filter": "datum.panel == 'B' && datum.label == 'CV Mâles:'"}], "mark": {"type": "text", "align": "right", "baseline": "middle", "fontSize": 13, "fontWeight": "bold"},
         "encoding": {"x": {"datum": 1789.8, "type": "quantitative", "scale": {"domain": [700, 1800], "nice": false, "zero": false}}, "y": {"datum": 0.08303, "type": "quantitative", "scale": {"domain": [0, 0.14], "nice": false, "zero": false}}, "text": {"field": "value", "type": "nominal"}, "fill": {"field": "kind", "type": "nominal", "scale": {"domain": ["Calibrage", "Dimorphisme", "Femelles", "Mâles"], "range": ["#008080", "#000000", "#FF0000", "#333399"]}, "legend": null}}}
      ]
    }
  ],
  "resolve": {"scale": {"color": "independent"}, "legend": {"color": "independent"}},
  "config": {
    "font": "Liberation Sans",
    "view": {"fill": "#FFFFCC", "stroke": null},
    "axis": {"labelFontSize": 12, "labelFontWeight": "bold", "labelColor": "black", "domainColor": "black", "domainWidth": 2, "tickColor": "black", "tickWidth": 1.5, "tickSize": 5, "grid": false, "zindex": 1, "labelFlush": false, "labelOverlap": false},
    "axisX": {"labelPadding": 9},
    "axisY": {"labelPadding": 4, "labelFontSize": 13}
  }
}
